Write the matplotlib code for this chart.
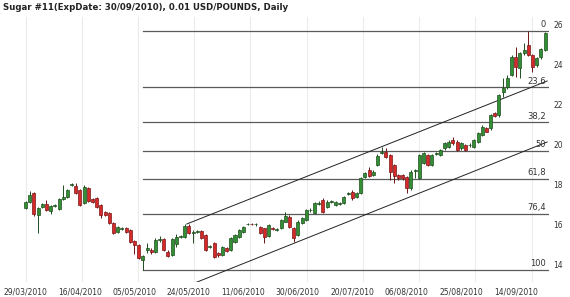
import numpy as np
import matplotlib
matplotlib.use("Agg")
from matplotlib import pyplot as plt

# Daily OHLC values (trading-day order)
opens = [16.8, 17.1, 17.55, 16.45, 16.85, 17.0, 16.65, 16.9, 16.75, 17.25,
         17.35, 17.95, 17.9, 17.7, 17.05, 17.8, 17.25, 17.3, 16.95, 16.6,
         16.55, 16.05, 15.6, 15.75, 15.8, 15.7, 15.15, 14.95, 14.2, 14.7,
         14.7, 14.6, 15.2, 15.25, 14.62, 14.45, 15.0, 15.35, 15.35, 15.9,
         15.55, 15.6, 15.67, 15.45, 14.85, 15.03, 14.53, 14.45, 14.78, 14.7,
         15.12, 15.33, 15.62, 15.98, 16.0, 15.98, 15.87, 15.78, 15.4, 15.8,
         15.72, 15.78, 16.12, 16.37, 15.78, 15.45, 16.05, 16.2, 16.68, 16.55,
         17.0, 17.2, 16.87, 17.1, 16.95, 17.02, 17.07, 17.5, 17.62, 17.33,
         17.57, 18.37, 18.7, 18.45, 18.95, 19.55, 19.6, 19.45, 18.95, 18.45,
         18.45, 18.37, 17.78, 18.65, 18.28, 19.03, 19.45, 18.95, 19.5, 19.45,
         19.78, 19.87, 20.2, 20.12, 19.78, 19.95, 19.93, 19.87, 20.12, 20.45,
         20.78, 20.78, 21.53, 21.45, 22.62, 22.83, 23.45, 24.37, 23.78, 24.53,
         24.95, 24.45, 23.95, 24.33, 24.7]
highs = [17.15, 17.65, 17.6, 16.85, 17.05, 17.2, 16.95, 17.0, 17.3, 17.95,
         17.75, 18.05, 18.05, 17.75, 17.95, 17.85, 17.3, 17.35, 17.0, 16.65,
         16.6, 16.1, 15.9, 15.85, 15.85, 15.75, 15.2, 15.0, 14.45, 15.05,
         14.8, 15.3, 15.4, 15.3, 14.7, 15.3, 15.5, 15.45, 16.0, 15.98,
         15.7, 15.68, 15.7, 15.5, 14.95, 15.1, 14.6, 14.9, 14.85, 15.35,
         15.5, 15.75, 15.9, 16.05, 16.05, 16.05, 15.9, 15.8, 16.0, 15.85,
         15.8, 16.25, 16.62, 16.45, 15.85, 16.2, 16.35, 16.75, 16.8, 17.1,
         17.15, 17.3, 17.2, 17.2, 17.15, 17.1, 17.4, 17.6, 17.7, 17.6,
         18.35, 18.6, 18.85, 18.7, 19.5, 19.85, 19.8, 19.5, 19.0, 18.5,
         18.5, 18.4, 18.7, 18.75, 19.5, 19.6, 19.5, 19.5, 19.6, 19.75,
         20.1, 20.2, 20.37, 20.2, 20.1, 20.0, 20.05, 20.25, 20.6, 20.95,
         20.85, 21.5, 21.6, 22.5, 23.28, 23.45, 24.45, 24.87, 24.6, 25.03,
         25.65, 24.5, 24.35, 24.8, 25.6]
lows = [16.75, 17.05, 16.4, 15.55, 16.8, 16.65, 16.5, 16.85, 16.7, 17.2,
        17.3, 17.9, 17.5, 16.9, 17.0, 17.1, 17.05, 16.8, 16.3, 16.4,
        16.0, 15.5, 15.55, 15.7, 15.55, 15.05, 14.5, 14.25, 13.7, 14.55,
        14.5, 14.55, 15.1, 14.65, 14.35, 14.4, 14.85, 15.3, 15.3, 15.5,
        15.05, 15.55, 15.25, 14.65, 14.8, 14.3, 14.35, 14.4, 14.6, 14.65,
        15.05, 15.3, 15.55, 15.95, 15.93, 15.9, 15.5, 15.03, 15.35, 15.7,
        15.65, 15.75, 16.1, 15.8, 15.12, 15.4, 16.0, 16.15, 16.6, 16.5,
        16.95, 16.55, 16.8, 17.05, 16.9, 16.95, 17.0, 17.45, 17.2, 17.3,
        17.5, 18.3, 18.35, 18.4, 18.9, 19.5, 19.3, 18.2, 18.05, 18.2,
        18.2, 17.53, 17.7, 18.3, 18.25, 19.0, 18.9, 18.9, 19.45, 19.4,
        19.7, 19.8, 19.95, 19.65, 19.7, 19.65, 19.85, 19.8, 20.05, 20.4,
        20.6, 20.7, 21.35, 21.37, 22.37, 22.75, 23.4, 23.37, 23.28, 24.45,
        24.4, 23.62, 23.85, 24.25, 24.65]
closes = [17.1, 17.45, 16.5, 16.8, 17.0, 16.7, 16.9, 16.95, 17.25, 17.35,
          17.7, 18.02, 17.55, 16.95, 17.85, 17.15, 17.1, 16.85, 16.45, 16.45,
          16.05, 15.55, 15.85, 15.75, 15.6, 15.1, 14.95, 14.3, 14.4, 14.78,
          14.58, 15.2, 15.22, 14.7, 14.42, 15.23, 15.33, 15.4, 15.9, 15.55,
          15.62, 15.63, 15.3, 14.7, 14.88, 14.37, 14.45, 14.87, 14.67, 15.28,
          15.45, 15.7, 15.87, 16.0, 15.98, 16.0, 15.53, 15.37, 15.95, 15.77,
          15.75, 16.2, 16.4, 15.87, 15.28, 16.12, 16.28, 16.7, 16.72, 17.03,
          17.05, 16.62, 17.12, 17.13, 17.12, 17.05, 17.37, 17.55, 17.28, 17.57,
          18.28, 18.53, 18.4, 18.62, 19.4, 19.6, 19.37, 18.62, 18.4, 18.3,
          18.28, 17.78, 18.62, 18.7, 19.45, 19.53, 18.95, 19.45, 19.53, 19.7,
          20.03, 20.12, 20.03, 19.7, 20.03, 19.7, 19.97, 20.2, 20.53, 20.87,
          20.62, 21.45, 21.4, 22.45, 22.78, 23.28, 24.37, 23.87, 24.53, 24.7,
          24.45, 23.87, 24.28, 24.73, 25.53]

date_labels = ["29/03/2010", "16/04/2010", "05/05/2010", "24/05/2010", "11/06/2010",
               "30/06/2010", "20/07/2010", "06/08/2010", "25/08/2010", "14/09/2010"]
fib_pcts = [0, 23.6, 38.2, 50, 61.8, 76.4, 100]
fib_texts = ["0", "23,6", "38,2", "50", "61,8", "76,4", "100"]

# trend channel end points (index, price)
upper_x = [38.5, 124.5]
upper_y = [16.0, 23.15]
lower_x = [38.0, 124.5]
lower_y = [12.85, 20.1]

opens = np.array(opens)
highs = np.array(highs)
lows = np.array(lows)
closes = np.array(closes)
idx = np.arange(len(opens))

fig = plt.figure(figsize=(5.7, 2.97), dpi=100)
ax = fig.add_axes([4.55 / 570, 15 / 297, 544.7 / 570, 265 / 297])

# light vertical grid
for gx in np.arange(10) * 13.42:
    ax.axvline(gx, color="#ececec", lw=0.8, zorder=0)

# candles
up = closes >= opens
body_lo = np.minimum(opens, closes)
body_h = np.maximum(np.abs(closes - opens), 0.04)
ax.vlines(idx[up], lows[up], highs[up], color="#1e4d1e", lw=0.7, zorder=2)
ax.vlines(idx[~up], lows[~up], highs[~up], color="#6e1515", lw=0.7, zorder=2)
ax.bar(idx[up], body_h[up], bottom=body_lo[up], width=0.72,
       color="#338f33", edgecolor="#1e4d1e", linewidth=0.5, zorder=3)
ax.bar(idx[~up], body_h[~up], bottom=body_lo[~up], width=0.72,
       color="#d42a2a", edgecolor="#7a1515", linewidth=0.5, zorder=3)

# fibonacci retracement from the low to the high
hi = highs.max()
lo = lows.min()
start = idx[np.argmin(lows)]
end = 124.6
for p, t in zip(fib_pcts, fib_texts):
    lvl = hi - (hi - lo) * p / 100.0
    ax.plot([start, end], [lvl, lvl], color="#5a5a5a", lw=0.9, zorder=1)
    ax.text(124.2, lvl + 0.08, t, ha="right", va="bottom", fontsize=6, color="#333333")

# channel
ax.plot(upper_x, upper_y, color="#222222", lw=0.7, zorder=1)
ax.plot(lower_x, lower_y, color="#222222", lw=0.7, zorder=1)

ax.set_xlim(-5, 125)
ax.set_ylim(13.1, 26.35)
ax.set_xticks(np.arange(len(date_labels)) * 13)
ax.set_xticklabels(date_labels)
ax.set_yticks(np.arange(14, 27, 2))
ax.yaxis.tick_right()
ax.tick_params(axis="both", length=0, labelsize=5.5, colors="#333333")
ax.tick_params(axis="x", pad=4)
ax.tick_params(axis="y", pad=3)
for s in ax.spines.values():
    s.set_visible(False)

fig.text(3 / 570, 1 - 8 / 297, "Sugar #11(ExpDate: 30/09/2010), 0.01 USD/POUNDS, Daily",
         fontsize=6.2, fontweight="bold", va="center", ha="left", color="#222222")

fig.savefig("out.png", dpi=100)
